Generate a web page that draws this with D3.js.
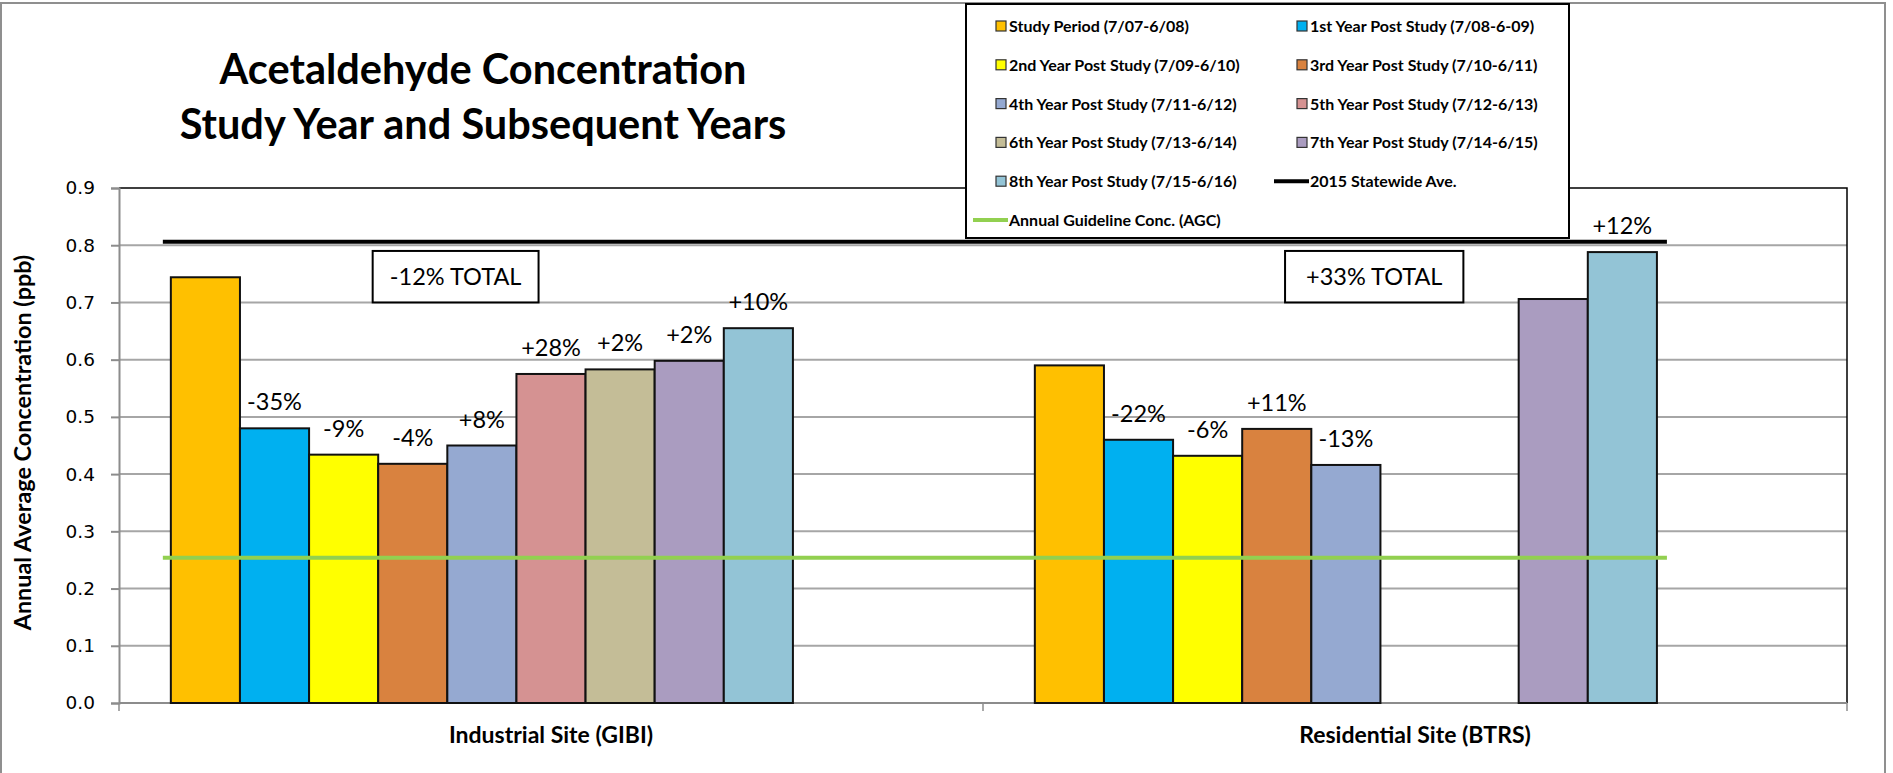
<!DOCTYPE html>
<meta charset="utf-8">
<style>
body { margin: 0; background: #fff; }
text { font-family: Lato, "Open Sans", sans-serif; }
.tick text { font-family: "DejaVu Sans", sans-serif; }
</style>
<svg width="1893" height="773"></svg>
<script src="https://d3js.org/d3.v7.min.js"></script>
<script>

// chart values
var sites = ["Industrial Site (GIBI)", "Residential Site (BTRS)"];

var periods = [
  "Study Period (7/07-6/08)", "1st Year Post Study (7/08-6-09)",
  "2nd Year Post Study (7/09-6/10)", "3rd Year Post Study (7/10-6/11)",
  "4th Year Post Study (7/11-6/12)", "5th Year Post Study (7/12-6/13)",
  "6th Year Post Study (7/13-6/14)", "7th Year Post Study (7/14-6/15)",
  "8th Year Post Study (7/15-6/16)"
];

var colors = ["#FFC000", "#00B0F0", "#FFFF00", "#D9823F", "#95A9D1",
              "#D59292", "#C4BD97", "#AA9CC0", "#93C4D6"];

var industrial  = [0.744, 0.480, 0.434, 0.418, 0.450, 0.575, 0.583, 0.598, 0.655];
var residential = [0.590, 0.460, 0.432, 0.479, 0.416, null, null, 0.706, 0.788];

var industrialLabels  = ["", "-35%", "-9%", "-4%", "+8%", "+28%", "+2%", "+2%", "+10%"];
var residentialLabels = ["", "-22%", "-6%", "+11%", "-13%", "", "", "", "+12%"];

var totals = ["-12% TOTAL", "+33% TOTAL"];

var statewideAve = 0.806;
var agc = 0.254;

var yTicks = [0, 0.1, 0.2, 0.3, 0.4, 0.5, 0.6, 0.7, 0.8, 0.9];

var svg = d3.select("svg"),
    width = +svg.attr("width"),
    height = +svg.attr("height");

var plot = {left: 119, right: 1847, top: 188, bottom: 703};

// outer chart border
svg.append("rect")
  .attr("x", 1).attr("y", 3)
  .attr("width", 1884).attr("height", height + 10)
  .attr("fill", "none")
  .attr("stroke", "#8f8f8f")
  .attr("stroke-width", 2);

var y = d3.scaleLinear()
  .domain([0, 0.9])
  .range([plot.bottom, plot.top]);

var x0 = d3.scaleBand()
  .domain(sites)
  .range([plot.left, plot.right]);

// excel cluster has 11 slots, only the first 9 hold visible series
var x1 = d3.scaleBand()
  .domain(d3.range(11))
  .range([0, x0.bandwidth()])
  .paddingOuter(0.75);

// gridlines
svg.append("g")
  .selectAll("line")
  .data(yTicks.slice(1, -1))
  .enter().append("line")
    .attr("x1", plot.left).attr("x2", plot.right)
    .attr("y1", function(d) { return y(d); })
    .attr("y2", function(d) { return y(d); })
    .attr("stroke", "#a6a6a6")
    .attr("stroke-width", 2);

// plot area border (top and right)
svg.append("path")
  .attr("d", "M" + plot.left + "," + y(0.9) + "H" + plot.right + "V" + plot.bottom)
  .attr("fill", "none")
  .attr("stroke", "#000")
  .attr("stroke-width", 1.5);

// y axis
var yAxis = svg.append("g")
  .attr("transform", "translate(" + plot.left + ",0)")
  .call(d3.axisLeft(y).tickValues(yTicks).tickFormat(d3.format(".1f")).tickSize(8).tickPadding(16));
yAxis.select(".domain").attr("stroke", "#8c8c8c").attr("stroke-width", 2);
yAxis.selectAll(".tick line").attr("stroke", "#8c8c8c").attr("stroke-width", 2);
yAxis.selectAll(".tick text").attr("font-size", 18.5).attr("fill", "#000");

// x axis
var xAxis = svg.append("g")
  .attr("transform", "translate(0," + plot.bottom + ")");
xAxis.append("line")
  .attr("x1", plot.left).attr("x2", plot.right)
  .attr("stroke", "#8c8c8c").attr("stroke-width", 2);
xAxis.selectAll(".sep")
  .data([plot.left, x0(sites[1]), plot.right])
  .enter().append("line")
    .attr("x1", function(d) { return d; })
    .attr("x2", function(d) { return d; })
    .attr("y1", 0).attr("y2", 8)
    .attr("stroke", "#8c8c8c").attr("stroke-width", 1.5);
xAxis.selectAll(".cat")
  .data(sites)
  .enter().append("text")
    .attr("x", function(d) { return x0(d) + x0.bandwidth() / 2; })
    .attr("y", 40)
    .attr("text-anchor", "middle")
    .attr("font-size", 23)
    .attr("font-weight", "bold")
    .text(function(d) { return d; });

// y axis title
svg.append("text")
  .attr("transform", "translate(31," + ((plot.top + plot.bottom) / 2 - 3) + ") rotate(-90)")
  .attr("text-anchor", "middle")
  .attr("font-size", 23.4)
  .attr("font-weight", "bold")
  .text("Annual Average Concentration (ppb)");

// bars
var groups = [
  {site: sites[0], values: industrial, labels: industrialLabels},
  {site: sites[1], values: residential, labels: residentialLabels}
];

var g = svg.selectAll(".site")
  .data(groups)
  .enter().append("g")
    .attr("class", "site")
    .attr("transform", function(d) { return "translate(" + x0(d.site) + ",0)"; });

g.selectAll("rect")
  .data(function(d) {
    return d.values.map(function(v, i) { return {i: i, v: v, label: d.labels[i]}; })
      .filter(function(e) { return e.v != null; });
  })
  .enter().append("rect")
    .attr("x", function(d) { return x1(d.i); })
    .attr("y", function(d) { return y(d.v); })
    .attr("width", x1.bandwidth())
    .attr("height", function(d) { return y(0) - y(d.v); })
    .attr("fill", function(d) { return colors[d.i]; })
    .attr("stroke", "#111")
    .attr("stroke-width", 2);

g.selectAll(".lbl")
  .data(function(d) {
    return d.values.map(function(v, i) { return {i: i, v: v, label: d.labels[i]}; })
      .filter(function(e) { return e.v != null && e.label; });
  })
  .enter().append("text")
    .attr("x", function(d) { return x1(d.i) + x1.bandwidth() / 2; })
    .attr("y", function(d) { return y(d.v) - 18; })
    .attr("text-anchor", "middle")
    .attr("font-size", 23.5)
    .text(function(d) { return d.label; });

// reference lines
var lineX1 = x0(sites[0]) + x1(0) - 8,
    lineX2 = x0(sites[1]) + x1(8) + x1.bandwidth() + 10;

svg.append("line")
  .attr("x1", lineX1).attr("x2", lineX2)
  .attr("y1", y(agc)).attr("y2", y(agc))
  .attr("stroke", "#92D050").attr("stroke-width", 4);

svg.append("line")
  .attr("x1", lineX1).attr("x2", lineX2)
  .attr("y1", y(statewideAve)).attr("y2", y(statewideAve))
  .attr("stroke", "#000").attr("stroke-width", 4);

// total boxes (positions in slot units)
var boxSlots = [[2.92, 5.32], [3.62, 6.2]];
totals.forEach(function(t, k) {
  var step = x1.step(),
      bx = x0(sites[k]) + x1(0) + boxSlots[k][0] * step,
      bw = (boxSlots[k][1] - boxSlots[k][0]) * step;
  svg.append("rect")
    .attr("x", bx).attr("y", y(0.79))
    .attr("width", bw).attr("height", y(0.70) - y(0.79))
    .attr("fill", "#fff").attr("stroke", "#000").attr("stroke-width", 2);
  svg.append("text")
    .attr("x", bx + bw / 2).attr("y", (y(0.79) + y(0.70)) / 2 + 8.5)
    .attr("text-anchor", "middle")
    .attr("font-size", 23.5)
    .text(t);
});

// title
var title = svg.append("text")
  .attr("text-anchor", "middle")
  .attr("font-size", 41.5)
  .attr("font-weight", "bold");
title.append("tspan").attr("x", 483).attr("y", 84).text("Acetaldehyde Concentration");
title.append("tspan").attr("x", 483).attr("y", 139).text("Study Year and Subsequent Years");

// legend
var legend = svg.append("g").attr("transform", "translate(966,4)");
legend.append("rect")
  .attr("width", 603).attr("height", 234)
  .attr("fill", "#fff").attr("stroke", "#000").attr("stroke-width", 2);

var rowY = d3.scalePoint().domain(d3.range(6)).range([22, 216]);
var colX = [43, 344];

var legendItems = periods.map(function(p, i) { return {name: p, color: colors[i], type: "box"}; });
legendItems.push({name: "2015 Statewide Ave.", color: "#000", type: "line"});
legendItems.push({name: "Annual Guideline Conc. (AGC)", color: "#92D050", type: "line"});

var item = legend.selectAll(".item")
  .data(legendItems)
  .enter().append("g")
    .attr("class", "item")
    .attr("transform", function(d, i) {
      return "translate(" + colX[i % 2] + "," + rowY(Math.floor(i / 2)) + ")";
    });

item.filter(function(d) { return d.type === "box"; })
  .append("rect")
    .attr("x", -13).attr("y", -5)
    .attr("width", 10).attr("height", 10)
    .attr("fill", function(d) { return d.color; })
    .attr("stroke", "#333").attr("stroke-width", 1.2);

item.filter(function(d) { return d.type === "line"; })
  .append("line")
    .attr("x1", -36).attr("x2", -1)
    .attr("stroke", function(d) { return d.color; })
    .attr("stroke-width", 4);

item.append("text")
  .attr("x", 0).attr("y", 6)
  .attr("font-size", 16)
  .attr("font-weight", "bold")
  .text(function(d) { return d.name; });

</script>
